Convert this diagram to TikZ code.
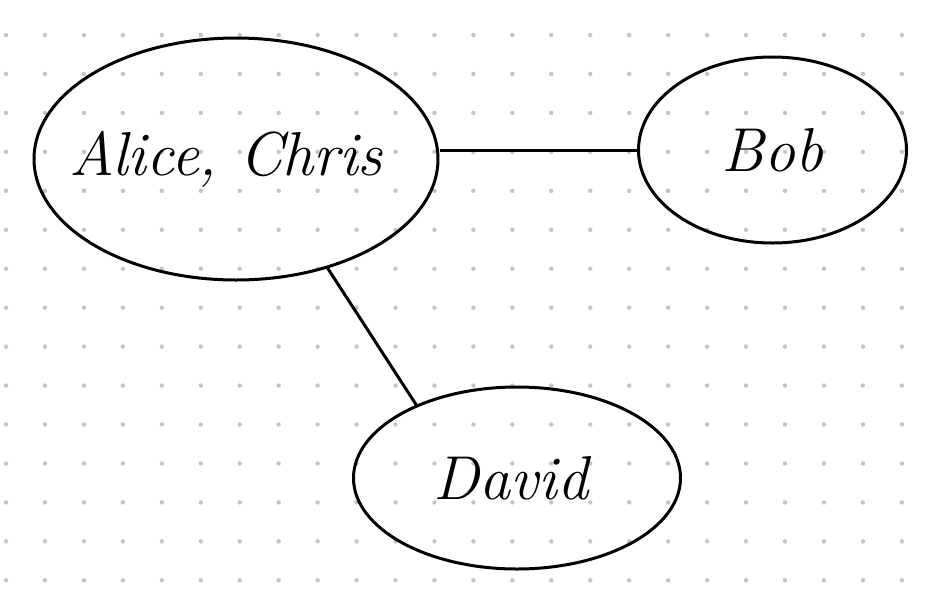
\documentclass[tikz,border=0pt]{standalone}
\usepackage{tikz}
\usetikzlibrary{shapes.geometric}

\definecolor{dotgray}{RGB}{196,196,196}
\tikzset{
  person/.style={draw, ellipse, line width=3pt, inner sep=0pt,
    font=\fontsize{62}{70}\selectfont\itshape},
  link/.style={line width=3pt}
}

\begin{document}
\begin{tikzpicture}[x=1pt, y=-1pt]
  \fill[white] (0,0) rectangle (932,595);
  \useasboundingbox (0,0) rectangle (932,595);
  \foreach \i in {0,...,23}
    \foreach \j in {0,...,14}
      \fill[dotgray] (6+38.95*\i, 35+38.95*\j) circle (2.2pt);
  \node[person, minimum width=404pt, minimum height=242pt] (alice) at (236,159) {\makebox[0pt]{\hspace*{-20pt}Alice, Chris}};
  \node[person, minimum width=268pt, minimum height=186pt] (bob) at (772.5,150) {\makebox[0pt]{Bob}};
  \node[person, minimum width=327pt, minimum height=182pt] (david) at (517,478) {\makebox[0pt]{\hspace*{-12pt}David}};
  \draw[link] (alice.east |- bob.west) -- (bob.west);
  \draw[link] (alice.-50) -- (david.144);
\end{tikzpicture}
\end{document}
